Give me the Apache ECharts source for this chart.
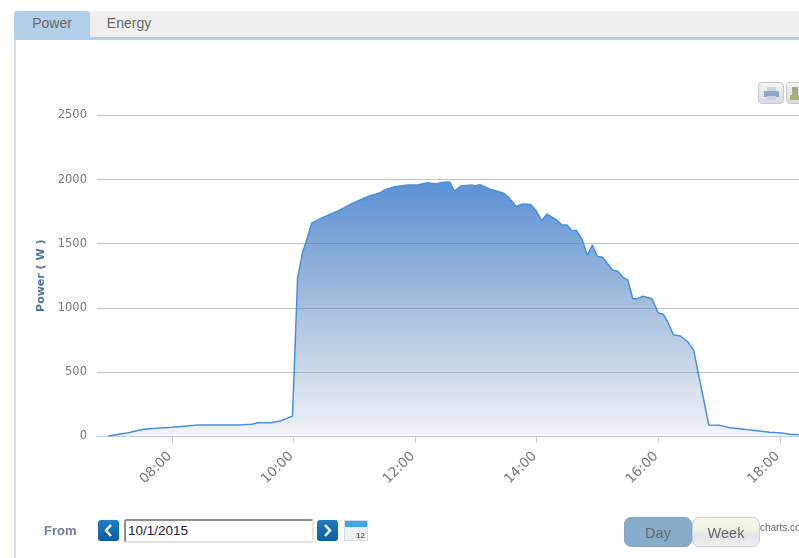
<!DOCTYPE html>
<html>
<head>
<meta charset="utf-8">
<title>Power</title>
<script src="https://cdn.jsdelivr.net/npm/echarts@6/dist/echarts.min.js"></script>
<style>
  html, body { margin: 0; padding: 0; background: #fff; }
  body { position: relative; width: 799px; height: 558px; overflow: hidden; font-family: "Liberation Sans", Arial, sans-serif; }
  #chart { position: absolute; left: 0; top: 0; width: 799px; height: 558px; }
  .abs { position: absolute; box-sizing: border-box; }
  .tabbar { left: 14px; top: 11px; width: 785px; height: 26px; background: #f0f0f0; }
  .tabline { left: 14px; top: 37px; width: 785px; height: 3px; background: #b2cfe9; }
  .sideline { left: 14px; top: 40px; width: 2px; height: 518px; background: #d3e2f3; }
  .tab { top: 11px; height: 27px; line-height: 25px; font-size: 14px; color: #666; text-align: center; }
  .tab.on { left: 14px; width: 76px; background: #b2cfe9; border-radius: 3px 3px 0 0; }
  .tab.off { left: 90px; width: 78px; }
  .from { left: 44px; top: 523px; font-size: 13px; font-weight: bold; color: #6f8099; }
  .nav { top: 520px; width: 21px; height: 21px; border-radius: 3px; background: linear-gradient(#1f7cc4, #0b5da3); }
  .nav svg { display: block; }
  .date { left: 124px; top: 519px; width: 190px; height: 24px; border: 2px solid #e4e4e4; border-top-color: #8f8f8f; border-left-color: #8f8f8f; border-radius: 3px; font-size: 13.5px; line-height: 20px; padding-left: 2px; color: #223; background: #fff; }
  .cal { left: 344px; top: 520px; width: 24px; height: 21px; background: #f1f3f3; border: 1px solid #d8dcdc; }
  .cal .hd { position: absolute; left: 0; top: 0; width: 100%; height: 6px; background: #3fa6e8; }
  .cal .num { position: absolute; right: 2px; bottom: 0; font-size: 8px; font-weight: bold; color: #666; }
  .range { top: 517px; height: 30px; line-height: 30px; font-size: 14.5px; color: #666; text-align: center; border-radius: 7px; }
  .day { left: 624px; width: 68px; background: #86aecb; border: 1px solid #8aa5b8; }
  .week { left: 692px; width: 68px; background: linear-gradient(#f7f7ea, #f1f2e4 45%, #dfe5ea 60%, #eef0ea); border: 1px solid #c8d0d8; }
  .credit { left: 760px; top: 522px; font-size: 10px; color: #666; white-space: nowrap; }
  .tool { top: 82px; width: 26px; height: 22px; border: 1px solid #c8c8c8; border-radius: 4px; background: linear-gradient(#f4f4f4, #dcdcdc); }
  .tool i { position: absolute; display: block; }
</style>
</head>
<body>
<div id="chart"></div>

<div class="abs tabbar"></div>
<div class="abs tabline"></div>
<div class="abs sideline"></div>
<div class="abs tab on">Power</div>
<div class="abs tab off">Energy</div>

<div class="abs tool" style="left:758px">
  <i style="left:8px;top:4px;width:9px;height:4px;background:#c5d3e2"></i>
  <i style="left:5px;top:8px;width:15px;height:6px;background:#8fa9c4"></i>
  <i style="left:8px;top:13px;width:9px;height:4px;background:#c5d3e2"></i>
</div>
<div class="abs tool" style="left:786px">
  <i style="left:5px;top:4px;width:6px;height:8px;background:#a8a884"></i>
  <i style="left:3px;top:12px;width:12px;height:5px;background:#9fb86c"></i>
</div>

<div class="abs from">From</div>
<div class="abs nav" style="left:98px"><svg width="21" height="21"><path d="M13 5 L8 10.5 L13 16" fill="none" stroke="#fff" stroke-width="2.5"/></svg></div>
<div class="abs date">10/1/2015</div>
<div class="abs nav" style="left:317px"><svg width="21" height="21"><path d="M8 5 L13 10.5 L8 16" fill="none" stroke="#fff" stroke-width="2.5"/></svg></div>
<div class="abs cal"><div class="hd"></div><div class="num">12</div></div>

<div class="abs credit">charts.com</div>
<div class="abs range day">Day</div>
<div class="abs range week">Week</div>

<script>
// 读图估算的功率曲线
const times = ['06:57', '07:17', '07:27', '07:34', '08:00', '08:26', '09:05', '09:19', '09:25', '09:37', '09:47', '09:59',
  '10:04', '10:09', '10:12', '10:18', '10:29', '10:44', '10:58', '11:14', '11:25', '11:30', '11:40', '11:53',
  '12:03', '12:13', '12:20', '12:28', '12:34', '12:39', '12:45', '12:56', '12:59', '13:04', '13:14', '13:27',
  '13:32', '13:40', '13:46', '13:54', '13:59', '14:05', '14:10', '14:19', '14:25', '14:30', '14:35', '14:39',
  '14:45', '14:50', '14:55', '15:00', '15:05', '15:15', '15:20', '15:25', '15:30', '15:35', '15:39', '15:45',
  '15:54', '16:00', '16:05', '16:10', '16:15', '16:22', '16:29', '16:35', '16:50', '17:01', '17:11', '17:31',
  '17:50', '18:02', '18:10', '18:19']
const powerW = [0, 25, 45, 55, 68, 85, 85, 92, 103, 103, 117, 155,
  1232, 1435, 1505, 1660, 1705, 1755, 1815, 1870, 1895, 1920, 1945, 1958,
  1960, 1975, 1965, 1980, 1982, 1910, 1950, 1958, 1950, 1960, 1925, 1895,
  1865, 1790, 1810, 1805, 1763, 1680, 1730, 1690, 1645, 1645, 1600, 1605,
  1530, 1410, 1490, 1400, 1395, 1295, 1285, 1240, 1215, 1070, 1070, 1090,
  1070, 960, 950, 880, 790, 780, 735, 670, 85, 83, 65, 47,
  29, 23, 13, 10]
const xTicks = ['08:00', '10:00', '12:00', '14:00', '16:00', '18:00']

// 时间转换成分钟
const toMinutes = (t) => {
  const [h, m] = t.split(':').map(Number)
  return h * 60 + m
}
const toLabel = (v) => {
  const h = Math.floor(v / 60)
  const m = v % 60
  return String(h).padStart(2, '0') + ':' + String(m).padStart(2, '0')
}
const tickValues = xTicks.map(toMinutes)

const chart = echarts.init(document.getElementById('chart'), null, { renderer: 'canvas' })
chart.setOption({
  animation: false,
  grid: { left: 97, right: 0, top: 115.5, bottom: 122, containLabel: false },
  xAxis: {
    type: 'value',
    min: toMinutes('06:46'),
    max: toMinutes('18:19'),
    axisLine: { show: true, lineStyle: { color: '#c0d0e0', width: 1 } },
    axisTick: { show: true, length: 7, lineStyle: { color: '#c0d0e0' }, customValues: tickValues },
    axisLabel: {
      customValues: tickValues,
      formatter: (v) => toLabel(v),
      rotate: 45,
      margin: 16,
      padding: [0, 3, 0, 0],
      color: '#777',
      fontFamily: 'DejaVu Sans',
      fontSize: 13.5
    },
    splitLine: { show: false }
  },
  yAxis: {
    type: 'value',
    min: 0,
    max: 2500,
    interval: 500,
    name: 'Power ( W )',
    nameLocation: 'middle',
    nameGap: 46,
    nameTextStyle: { color: '#4d759e', fontWeight: 'bold', fontSize: 11, fontFamily: 'DejaVu Sans' },
    axisLine: { show: false },
    axisTick: { show: false },
    axisLabel: { color: '#777', fontFamily: 'DejaVu Sans', fontSize: 11.5, margin: 10, padding: [2, 0, 0, 0], formatter: (v) => String(v) },
    splitLine: { show: true, lineStyle: { color: '#c4c4c4', width: 1 } }
  },
  series: [
    {
      type: 'line',
      data: times.map((t, i) => [toMinutes(t), powerW[i]]),
      showSymbol: false,
      smooth: false,
      lineStyle: { color: '#4a8fdf', width: 1.5 },
      areaStyle: {
        opacity: 1,
        color: new echarts.graphic.LinearGradient(0, 0, 0, 1, [
          { offset: 0, color: 'rgba(69,130,207,0.88)' },
          { offset: 1, color: 'rgba(69,114,167,0.07)' }
        ])
      }
    }
  ]
})
</script>
</body>
</html>
